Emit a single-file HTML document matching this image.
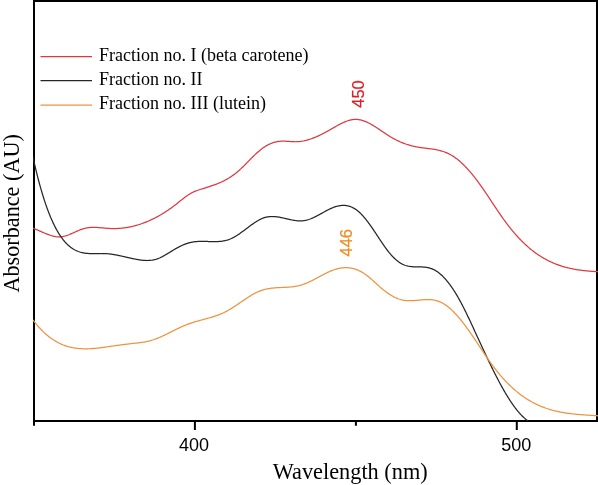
<!DOCTYPE html>
<html><head><meta charset="utf-8"><style>
html,body{margin:0;padding:0;background:#fff;}
body{width:598px;height:485px;overflow:hidden;}
svg{display:block;will-change:transform;}
.serif{font-family:"Liberation Serif",serif;}
.sans{font-family:"Liberation Sans",sans-serif;}
</style></head><body>
<svg width="598" height="485" viewBox="0 0 598 485">
<rect x="0" y="0" width="598" height="485" fill="#fff"/>
<defs><clipPath id="pc"><rect x="33" y="0" width="565" height="421.5"/></clipPath></defs>

<g fill="none" stroke="#000" stroke-width="2">
<path d="M34 1 H597 V421 H34 Z" />
<path d="M34 420 V425.8 M194.9 420 V430 M355.9 420 V425.8 M516.8 420 V430"/>
</g>
<g clip-path="url(#pc)"><g transform="translate(0 0.4)" fill="none" stroke-linejoin="round" stroke-linecap="round" stroke-width="1.25">
<path d="M33.00 227.85 L33.75 228.11 L34.50 228.39 L35.20 228.66 L35.90 228.94 L36.60 229.22 L37.30 229.52 L38.00 229.81 L38.70 230.11 L39.40 230.42 L40.10 230.73 L40.80 231.04 L41.50 231.35 L42.20 231.66 L42.90 231.97 L43.60 232.27 L44.30 232.58 L45.00 232.88 L45.70 233.17 L46.40 233.46 L47.10 233.74 L47.80 234.01 L48.55 234.29 L49.30 234.56 L50.05 234.82 L50.80 235.07 L51.55 235.30 L52.30 235.51 L53.05 235.70 L53.80 235.88 L54.55 236.04 L55.30 236.17 L56.05 236.29 L56.80 236.38 L57.55 236.44 L58.30 236.48 L59.05 236.49 L59.80 236.48 L60.55 236.43 L61.30 236.36 L62.05 236.26 L62.80 236.13 L63.55 235.97 L64.30 235.80 L65.05 235.60 L65.80 235.38 L66.55 235.14 L67.30 234.89 L68.05 234.62 L68.80 234.33 L69.50 234.06 L70.20 233.77 L70.90 233.48 L71.60 233.18 L72.30 232.88 L73.00 232.57 L73.70 232.25 L74.40 231.94 L75.10 231.63 L75.80 231.31 L76.50 231.00 L77.20 230.70 L77.90 230.40 L78.60 230.10 L79.30 229.81 L80.00 229.53 L80.70 229.26 L81.45 228.99 L82.20 228.73 L82.95 228.48 L83.70 228.25 L84.45 228.05 L85.20 227.86 L85.95 227.69 L86.70 227.55 L87.45 227.42 L88.20 227.31 L88.95 227.22 L89.70 227.14 L90.45 227.08 L91.20 227.03 L91.95 227.00 L92.70 226.98 L93.45 226.97 L94.20 226.98 L94.95 226.99 L95.70 227.01 L96.45 227.05 L97.20 227.08 L97.95 227.13 L98.70 227.18 L99.45 227.24 L100.20 227.30 L100.95 227.37 L101.70 227.43 L102.45 227.50 L103.20 227.57 L103.95 227.64 L104.70 227.71 L105.45 227.78 L106.20 227.84 L106.95 227.90 L107.70 227.96 L108.45 228.01 L109.20 228.05 L109.95 228.09 L110.70 228.12 L111.45 228.14 L112.20 228.16 L112.95 228.17 L113.70 228.17 L114.45 228.17 L115.20 228.16 L115.95 228.14 L116.70 228.11 L117.45 228.08 L118.20 228.04 L118.95 228.00 L119.70 227.94 L120.45 227.88 L121.20 227.82 L121.95 227.74 L122.70 227.66 L123.45 227.57 L124.20 227.48 L124.95 227.38 L125.70 227.27 L126.45 227.15 L127.20 227.03 L127.95 226.90 L128.70 226.76 L129.45 226.62 L130.20 226.47 L130.95 226.31 L131.70 226.15 L132.45 225.98 L133.20 225.80 L133.95 225.61 L134.70 225.42 L135.45 225.22 L136.20 225.01 L136.95 224.80 L137.70 224.58 L138.45 224.35 L139.20 224.12 L139.95 223.88 L140.70 223.63 L141.45 223.37 L142.20 223.11 L142.95 222.84 L143.70 222.56 L144.45 222.28 L145.15 222.01 L145.85 221.73 L146.55 221.45 L147.25 221.16 L147.95 220.86 L148.65 220.56 L149.35 220.25 L150.05 219.94 L150.75 219.62 L151.45 219.29 L152.15 218.96 L152.85 218.62 L153.55 218.27 L154.25 217.92 L154.95 217.57 L155.65 217.20 L156.35 216.83 L157.05 216.46 L157.75 216.08 L158.45 215.69 L159.15 215.29 L159.85 214.89 L160.50 214.52 L161.15 214.13 L161.80 213.75 L162.45 213.35 L163.10 212.95 L163.75 212.55 L164.40 212.14 L165.05 211.73 L165.70 211.31 L166.35 210.88 L167.00 210.45 L167.65 210.02 L168.30 209.58 L168.95 209.13 L169.60 208.68 L170.25 208.22 L170.90 207.76 L171.55 207.29 L172.20 206.82 L172.85 206.34 L173.50 205.86 L174.10 205.40 L174.70 204.95 L175.30 204.49 L175.90 204.02 L176.50 203.55 L177.10 203.08 L177.70 202.60 L178.30 202.13 L178.90 201.64 L179.50 201.16 L180.10 200.68 L180.70 200.20 L181.30 199.72 L181.90 199.24 L182.50 198.77 L183.10 198.30 L183.70 197.83 L184.30 197.37 L184.90 196.92 L185.55 196.44 L186.20 195.96 L186.85 195.50 L187.50 195.05 L188.15 194.61 L188.80 194.18 L189.45 193.77 L190.10 193.37 L190.75 192.99 L191.45 192.60 L192.15 192.23 L192.85 191.88 L193.55 191.54 L194.25 191.23 L194.95 190.93 L195.65 190.65 L196.35 190.38 L197.10 190.10 L197.85 189.84 L198.60 189.58 L199.35 189.33 L200.10 189.09 L200.85 188.85 L201.60 188.62 L202.35 188.39 L203.10 188.16 L203.85 187.92 L204.60 187.69 L205.35 187.46 L206.10 187.23 L206.85 186.99 L207.60 186.75 L208.35 186.51 L209.10 186.27 L209.85 186.03 L210.60 185.78 L211.35 185.53 L212.10 185.27 L212.85 185.01 L213.60 184.75 L214.35 184.48 L215.10 184.20 L215.85 183.92 L216.55 183.65 L217.25 183.37 L217.95 183.09 L218.65 182.80 L219.35 182.51 L220.05 182.20 L220.75 181.89 L221.45 181.58 L222.15 181.25 L222.85 180.92 L223.55 180.57 L224.25 180.22 L224.95 179.86 L225.65 179.49 L226.35 179.11 L227.05 178.71 L227.75 178.31 L228.40 177.93 L229.05 177.53 L229.70 177.13 L230.35 176.72 L231.00 176.29 L231.65 175.86 L232.30 175.41 L232.95 174.95 L233.60 174.48 L234.25 174.00 L234.85 173.55 L235.45 173.09 L236.05 172.61 L236.65 172.12 L237.25 171.63 L237.85 171.12 L238.45 170.60 L239.05 170.07 L239.65 169.53 L240.25 168.98 L240.80 168.46 L241.35 167.95 L241.90 167.42 L242.45 166.89 L243.00 166.35 L243.55 165.81 L244.10 165.27 L244.65 164.72 L245.20 164.16 L245.75 163.61 L246.30 163.05 L246.85 162.49 L247.40 161.93 L247.95 161.37 L248.50 160.80 L249.05 160.24 L249.60 159.68 L250.15 159.12 L250.70 158.56 L251.25 158.00 L251.80 157.45 L252.35 156.90 L252.90 156.35 L253.45 155.81 L254.00 155.27 L254.55 154.74 L255.10 154.21 L255.65 153.69 L256.20 153.17 L256.80 152.62 L257.40 152.08 L258.00 151.54 L258.60 151.02 L259.20 150.51 L259.80 150.00 L260.40 149.52 L261.00 149.04 L261.60 148.58 L262.25 148.09 L262.90 147.62 L263.55 147.17 L264.20 146.73 L264.85 146.31 L265.50 145.90 L266.15 145.51 L266.80 145.14 L267.50 144.75 L268.20 144.38 L268.90 144.03 L269.60 143.70 L270.30 143.38 L271.00 143.09 L271.70 142.81 L272.45 142.53 L273.20 142.27 L273.95 142.04 L274.70 141.82 L275.45 141.62 L276.20 141.45 L276.95 141.29 L277.70 141.16 L278.45 141.04 L279.20 140.95 L279.95 140.87 L280.70 140.82 L281.45 140.78 L282.20 140.76 L282.95 140.75 L283.70 140.75 L284.45 140.77 L285.20 140.80 L285.95 140.84 L286.70 140.88 L287.45 140.92 L288.20 140.98 L288.95 141.03 L289.70 141.08 L290.45 141.14 L291.20 141.19 L291.95 141.23 L292.70 141.27 L293.45 141.31 L294.20 141.33 L294.95 141.34 L295.70 141.35 L296.45 141.34 L297.20 141.31 L297.95 141.27 L298.70 141.21 L299.45 141.14 L300.20 141.06 L300.95 140.96 L301.70 140.85 L302.45 140.73 L303.20 140.59 L303.95 140.45 L304.70 140.28 L305.45 140.11 L306.20 139.93 L306.95 139.73 L307.70 139.52 L308.45 139.30 L309.20 139.07 L309.95 138.83 L310.70 138.58 L311.45 138.32 L312.20 138.05 L312.95 137.77 L313.65 137.50 L314.35 137.22 L315.05 136.94 L315.75 136.65 L316.45 136.35 L317.15 136.04 L317.85 135.73 L318.55 135.41 L319.25 135.08 L319.95 134.75 L320.65 134.41 L321.35 134.06 L322.05 133.71 L322.75 133.36 L323.45 133.00 L324.15 132.63 L324.85 132.26 L325.55 131.89 L326.25 131.51 L326.95 131.13 L327.65 130.74 L328.35 130.35 L329.05 129.95 L329.75 129.56 L330.45 129.16 L331.15 128.75 L331.80 128.38 L332.45 128.00 L333.10 127.63 L333.75 127.25 L334.40 126.87 L335.10 126.47 L335.80 126.07 L336.50 125.67 L337.20 125.28 L337.90 124.89 L338.60 124.51 L339.30 124.14 L340.00 123.77 L340.70 123.41 L341.40 123.05 L342.10 122.71 L342.80 122.38 L343.50 122.05 L344.20 121.74 L344.90 121.44 L345.60 121.16 L346.30 120.89 L347.05 120.61 L347.80 120.36 L348.55 120.12 L349.30 119.90 L350.05 119.70 L350.80 119.52 L351.55 119.37 L352.30 119.24 L353.05 119.13 L353.80 119.05 L354.55 118.99 L355.30 118.97 L356.05 118.97 L356.80 118.99 L357.55 119.05 L358.30 119.13 L359.05 119.24 L359.80 119.37 L360.55 119.53 L361.30 119.72 L362.05 119.92 L362.80 120.15 L363.55 120.40 L364.30 120.67 L365.05 120.95 L365.75 121.24 L366.45 121.54 L367.15 121.86 L367.85 122.19 L368.55 122.54 L369.25 122.89 L369.95 123.26 L370.65 123.64 L371.35 124.04 L372.05 124.44 L372.70 124.82 L373.35 125.21 L374.00 125.61 L374.65 126.01 L375.30 126.42 L375.95 126.84 L376.60 127.26 L377.25 127.68 L377.90 128.11 L378.55 128.54 L379.20 128.97 L379.85 129.41 L380.50 129.85 L381.15 130.29 L381.80 130.73 L382.45 131.17 L383.10 131.61 L383.75 132.05 L384.40 132.48 L385.05 132.92 L385.70 133.35 L386.35 133.78 L387.00 134.20 L387.65 134.63 L388.30 135.04 L388.95 135.45 L389.60 135.86 L390.25 136.26 L390.90 136.65 L391.55 137.03 L392.20 137.41 L392.90 137.80 L393.60 138.19 L394.30 138.57 L395.00 138.94 L395.70 139.30 L396.40 139.66 L397.10 140.00 L397.80 140.34 L398.50 140.67 L399.20 140.99 L399.90 141.31 L400.60 141.61 L401.30 141.91 L402.00 142.20 L402.70 142.48 L403.40 142.75 L404.15 143.04 L404.90 143.31 L405.65 143.58 L406.40 143.83 L407.15 144.08 L407.90 144.32 L408.65 144.55 L409.40 144.78 L410.15 144.99 L410.90 145.20 L411.65 145.40 L412.40 145.59 L413.15 145.77 L413.90 145.94 L414.65 146.11 L415.40 146.26 L416.15 146.41 L416.90 146.56 L417.65 146.69 L418.40 146.82 L419.15 146.94 L419.90 147.05 L420.65 147.16 L421.40 147.27 L422.15 147.37 L422.90 147.47 L423.65 147.56 L424.40 147.65 L425.15 147.74 L425.90 147.84 L426.65 147.93 L427.40 148.02 L428.15 148.11 L428.90 148.20 L429.65 148.30 L430.40 148.40 L431.15 148.50 L431.90 148.60 L432.65 148.71 L433.40 148.83 L434.15 148.95 L434.90 149.08 L435.65 149.21 L436.40 149.36 L437.15 149.51 L437.90 149.67 L438.65 149.84 L439.40 150.02 L440.15 150.21 L440.90 150.41 L441.65 150.63 L442.40 150.85 L443.15 151.09 L443.90 151.35 L444.65 151.62 L445.40 151.90 L446.10 152.18 L446.80 152.47 L447.50 152.78 L448.20 153.10 L448.90 153.44 L449.60 153.80 L450.30 154.17 L451.00 154.56 L451.65 154.93 L452.30 155.33 L452.95 155.73 L453.60 156.16 L454.25 156.59 L454.90 157.05 L455.55 157.51 L456.20 157.99 L456.80 158.45 L457.40 158.92 L458.00 159.40 L458.60 159.89 L459.20 160.39 L459.80 160.91 L460.40 161.44 L461.00 161.97 L461.60 162.52 L462.15 163.04 L462.70 163.56 L463.25 164.09 L463.80 164.63 L464.35 165.18 L464.90 165.74 L465.45 166.30 L466.00 166.88 L466.55 167.46 L467.10 168.05 L467.65 168.65 L468.20 169.26 L468.70 169.82 L469.20 170.39 L469.70 170.96 L470.20 171.54 L470.70 172.13 L471.20 172.72 L471.70 173.32 L472.20 173.93 L472.70 174.54 L473.20 175.16 L473.70 175.78 L474.20 176.41 L474.70 177.05 L475.20 177.69 L475.70 178.34 L476.20 178.99 L476.70 179.65 L477.20 180.31 L477.65 180.91 L478.10 181.52 L478.55 182.13 L479.00 182.75 L479.45 183.37 L479.90 183.99 L480.35 184.62 L480.80 185.25 L481.25 185.89 L481.70 186.53 L482.15 187.17 L482.60 187.82 L483.05 188.47 L483.50 189.12 L483.95 189.77 L484.40 190.43 L484.85 191.09 L485.30 191.76 L485.75 192.42 L486.20 193.09 L486.65 193.76 L487.10 194.43 L487.55 195.10 L488.00 195.78 L488.45 196.45 L488.90 197.13 L489.35 197.81 L489.80 198.49 L490.25 199.16 L490.70 199.84 L491.15 200.52 L491.60 201.21 L492.05 201.89 L492.50 202.57 L492.95 203.25 L493.40 203.93 L493.85 204.61 L494.30 205.28 L494.75 205.96 L495.20 206.64 L495.65 207.31 L496.10 207.99 L496.55 208.66 L497.00 209.33 L497.45 210.00 L497.90 210.67 L498.35 211.33 L498.80 212.00 L499.25 212.66 L499.70 213.32 L500.15 213.97 L500.60 214.62 L501.05 215.27 L501.50 215.92 L501.95 216.56 L502.40 217.20 L502.85 217.84 L503.30 218.47 L503.75 219.10 L504.20 219.72 L504.65 220.34 L505.10 220.95 L505.55 221.56 L506.00 222.17 L506.45 222.77 L506.95 223.44 L507.45 224.09 L507.95 224.75 L508.45 225.39 L508.95 226.04 L509.45 226.67 L509.95 227.30 L510.45 227.93 L510.95 228.55 L511.45 229.16 L511.95 229.77 L512.45 230.38 L512.95 230.97 L513.45 231.57 L513.95 232.15 L514.45 232.74 L514.95 233.31 L515.45 233.89 L515.95 234.45 L516.45 235.01 L517.00 235.62 L517.55 236.23 L518.10 236.83 L518.65 237.42 L519.20 238.00 L519.75 238.58 L520.30 239.15 L520.85 239.72 L521.40 240.28 L521.95 240.83 L522.50 241.38 L523.05 241.92 L523.60 242.46 L524.15 242.98 L524.70 243.51 L525.25 244.02 L525.85 244.58 L526.45 245.12 L527.05 245.66 L527.65 246.20 L528.25 246.72 L528.85 247.24 L529.45 247.75 L530.05 248.25 L530.65 248.75 L531.25 249.24 L531.85 249.72 L532.45 250.19 L533.05 250.66 L533.65 251.12 L534.25 251.57 L534.90 252.05 L535.55 252.53 L536.20 252.99 L536.85 253.45 L537.50 253.90 L538.15 254.34 L538.80 254.78 L539.45 255.20 L540.10 255.62 L540.75 256.03 L541.40 256.44 L542.05 256.83 L542.70 257.22 L543.35 257.60 L544.00 257.98 L544.70 258.38 L545.40 258.76 L546.10 259.14 L546.80 259.51 L547.50 259.88 L548.20 260.23 L548.90 260.58 L549.60 260.92 L550.30 261.25 L551.00 261.58 L551.70 261.90 L552.40 262.21 L553.10 262.51 L553.80 262.81 L554.50 263.10 L555.20 263.38 L555.90 263.66 L556.60 263.93 L557.35 264.21 L558.10 264.48 L558.85 264.75 L559.60 265.01 L560.35 265.26 L561.10 265.51 L561.85 265.74 L562.60 265.98 L563.35 266.20 L564.10 266.42 L564.85 266.63 L565.60 266.84 L566.35 267.04 L567.10 267.23 L567.85 267.42 L568.60 267.60 L569.35 267.77 L570.10 267.94 L570.85 268.11 L571.60 268.27 L572.35 268.42 L573.10 268.57 L573.85 268.71 L574.60 268.85 L575.35 268.98 L576.10 269.11 L576.85 269.24 L577.60 269.36 L578.35 269.47 L579.10 269.58 L579.85 269.69 L580.60 269.79 L581.35 269.89 L582.10 269.98 L582.85 270.08 L583.60 270.16 L584.35 270.25 L585.10 270.33 L585.85 270.40 L586.60 270.48 L587.35 270.55 L588.10 270.62 L588.85 270.68 L589.60 270.75 L590.35 270.81 L591.10 270.86 L591.85 270.92 L592.60 270.97 L593.35 271.02 L594.10 271.07 L594.85 271.12 L595.60 271.16 L596.35 271.21 L597.10 271.25 L597.85 271.29 L598.00 271.30" stroke="#dc3a40"/>
<path d="M33.00 156.80 L33.20 157.70 L33.40 158.60 L33.60 159.50 L33.80 160.39 L34.00 161.27 L34.20 162.15 L34.40 163.02 L34.60 163.89 L34.80 164.75 L35.00 165.61 L35.20 166.46 L35.40 167.30 L35.60 168.14 L35.80 168.98 L36.00 169.81 L36.20 170.63 L36.40 171.45 L36.60 172.26 L36.80 173.07 L37.00 173.87 L37.20 174.66 L37.40 175.45 L37.60 176.24 L37.80 177.02 L38.00 177.80 L38.20 178.57 L38.40 179.33 L38.60 180.09 L38.80 180.84 L39.00 181.59 L39.20 182.34 L39.40 183.08 L39.60 183.81 L39.80 184.54 L40.00 185.26 L40.25 186.16 L40.50 187.05 L40.75 187.93 L41.00 188.80 L41.25 189.67 L41.50 190.53 L41.75 191.38 L42.00 192.22 L42.25 193.05 L42.50 193.88 L42.75 194.70 L43.00 195.51 L43.25 196.32 L43.50 197.12 L43.75 197.91 L44.00 198.69 L44.25 199.46 L44.50 200.23 L44.75 200.99 L45.00 201.74 L45.25 202.49 L45.50 203.23 L45.75 203.96 L46.00 204.69 L46.25 205.40 L46.50 206.11 L46.80 206.96 L47.10 207.79 L47.40 208.61 L47.70 209.42 L48.00 210.23 L48.30 211.02 L48.60 211.81 L48.90 212.58 L49.20 213.34 L49.50 214.10 L49.80 214.84 L50.10 215.58 L50.40 216.31 L50.70 217.02 L51.00 217.73 L51.30 218.43 L51.60 219.12 L51.95 219.91 L52.30 220.69 L52.65 221.46 L53.00 222.22 L53.35 222.96 L53.70 223.69 L54.05 224.41 L54.40 225.12 L54.75 225.82 L55.10 226.50 L55.45 227.18 L55.85 227.94 L56.25 228.68 L56.65 229.40 L57.05 230.12 L57.45 230.82 L57.85 231.50 L58.25 232.17 L58.65 232.83 L59.05 233.47 L59.50 234.18 L59.95 234.87 L60.40 235.54 L60.85 236.20 L61.30 236.84 L61.75 237.47 L62.20 238.08 L62.70 238.73 L63.20 239.37 L63.70 239.99 L64.20 240.60 L64.70 241.18 L65.20 241.75 L65.75 242.35 L66.30 242.93 L66.85 243.49 L67.40 244.03 L67.95 244.55 L68.55 245.09 L69.15 245.61 L69.75 246.11 L70.35 246.59 L70.95 247.04 L71.60 247.51 L72.25 247.96 L72.90 248.38 L73.55 248.78 L74.20 249.16 L74.90 249.54 L75.60 249.90 L76.30 250.24 L77.00 250.55 L77.70 250.84 L78.40 251.11 L79.15 251.38 L79.90 251.62 L80.65 251.84 L81.40 252.04 L82.15 252.22 L82.90 252.39 L83.65 252.53 L84.40 252.66 L85.15 252.77 L85.90 252.87 L86.65 252.95 L87.40 253.02 L88.15 253.08 L88.90 253.13 L89.65 253.16 L90.40 253.19 L91.15 253.21 L91.90 253.22 L92.65 253.22 L93.40 253.22 L94.15 253.21 L94.90 253.20 L95.65 253.19 L96.40 253.18 L97.15 253.16 L97.90 253.14 L98.65 253.13 L99.40 253.12 L100.15 253.11 L100.90 253.10 L101.65 253.10 L102.40 253.10 L103.15 253.11 L103.90 253.13 L104.65 253.15 L105.40 253.19 L106.15 253.23 L106.90 253.29 L107.65 253.35 L108.40 253.42 L109.15 253.50 L109.90 253.59 L110.65 253.68 L111.40 253.78 L112.15 253.89 L112.90 254.01 L113.65 254.13 L114.40 254.26 L115.15 254.39 L115.90 254.53 L116.65 254.67 L117.40 254.82 L118.15 254.97 L118.90 255.12 L119.65 255.28 L120.40 255.44 L121.15 255.60 L121.90 255.77 L122.65 255.94 L123.40 256.11 L124.15 256.28 L124.90 256.45 L125.65 256.62 L126.40 256.79 L127.15 256.97 L127.90 257.14 L128.65 257.31 L129.40 257.48 L130.15 257.65 L130.90 257.81 L131.65 257.98 L132.40 258.14 L133.15 258.30 L133.90 258.46 L134.65 258.61 L135.40 258.76 L136.15 258.90 L136.90 259.04 L137.65 259.18 L138.40 259.30 L139.15 259.43 L139.90 259.54 L140.65 259.64 L141.40 259.74 L142.15 259.82 L142.90 259.90 L143.65 259.96 L144.40 260.02 L145.15 260.06 L145.90 260.08 L146.65 260.10 L147.40 260.10 L148.15 260.08 L148.90 260.05 L149.65 260.00 L150.40 259.94 L151.15 259.85 L151.90 259.75 L152.65 259.63 L153.40 259.49 L154.15 259.33 L154.90 259.15 L155.65 258.95 L156.40 258.72 L157.15 258.47 L157.90 258.20 L158.60 257.93 L159.30 257.64 L160.00 257.33 L160.70 257.00 L161.40 256.67 L162.10 256.32 L162.80 255.95 L163.50 255.58 L164.20 255.19 L164.90 254.80 L165.60 254.39 L166.25 254.01 L166.90 253.63 L167.55 253.24 L168.20 252.84 L168.85 252.45 L169.50 252.05 L170.15 251.65 L170.80 251.25 L171.45 250.85 L172.10 250.45 L172.75 250.05 L173.40 249.66 L174.05 249.27 L174.70 248.88 L175.35 248.50 L176.05 248.10 L176.75 247.71 L177.45 247.32 L178.15 246.95 L178.85 246.58 L179.55 246.22 L180.25 245.88 L180.95 245.54 L181.65 245.22 L182.35 244.90 L183.05 244.59 L183.75 244.30 L184.45 244.02 L185.15 243.75 L185.90 243.47 L186.65 243.21 L187.40 242.96 L188.15 242.73 L188.90 242.51 L189.65 242.30 L190.40 242.12 L191.15 241.94 L191.90 241.79 L192.65 241.65 L193.40 241.52 L194.15 241.41 L194.90 241.32 L195.65 241.24 L196.40 241.16 L197.15 241.11 L197.90 241.06 L198.65 241.02 L199.40 240.99 L200.15 240.97 L200.90 240.96 L201.65 240.95 L202.40 240.96 L203.15 240.96 L203.90 240.97 L204.65 240.99 L205.40 241.01 L206.15 241.03 L206.90 241.06 L207.65 241.08 L208.40 241.11 L209.15 241.13 L209.90 241.15 L210.65 241.18 L211.40 241.20 L212.15 241.21 L212.90 241.22 L213.65 241.23 L214.40 241.23 L215.15 241.23 L215.90 241.21 L216.65 241.19 L217.40 241.16 L218.15 241.13 L218.90 241.08 L219.65 241.02 L220.40 240.95 L221.15 240.86 L221.90 240.77 L222.65 240.66 L223.40 240.53 L224.15 240.39 L224.90 240.23 L225.65 240.06 L226.40 239.87 L227.15 239.66 L227.90 239.43 L228.65 239.18 L229.40 238.91 L230.10 238.64 L230.80 238.35 L231.50 238.04 L232.20 237.71 L232.90 237.36 L233.60 237.00 L234.30 236.62 L235.00 236.22 L235.65 235.83 L236.30 235.44 L236.95 235.03 L237.60 234.61 L238.25 234.18 L238.90 233.75 L239.55 233.30 L240.20 232.85 L240.85 232.39 L241.50 231.92 L242.15 231.45 L242.80 230.97 L243.45 230.49 L244.10 230.00 L244.70 229.55 L245.30 229.10 L245.90 228.65 L246.50 228.19 L247.10 227.74 L247.70 227.29 L248.30 226.84 L248.95 226.35 L249.60 225.87 L250.25 225.39 L250.90 224.91 L251.55 224.44 L252.20 223.97 L252.85 223.51 L253.50 223.06 L254.15 222.62 L254.80 222.18 L255.45 221.76 L256.10 221.34 L256.75 220.94 L257.40 220.55 L258.05 220.17 L258.75 219.77 L259.45 219.39 L260.15 219.03 L260.85 218.69 L261.55 218.36 L262.25 218.06 L262.95 217.78 L263.70 217.50 L264.45 217.24 L265.20 217.01 L265.95 216.82 L266.70 216.64 L267.45 216.50 L268.20 216.37 L268.95 216.27 L269.70 216.20 L270.45 216.15 L271.20 216.11 L271.95 216.10 L272.70 216.10 L273.45 216.13 L274.20 216.17 L274.95 216.22 L275.70 216.29 L276.45 216.38 L277.20 216.48 L277.95 216.59 L278.70 216.71 L279.45 216.84 L280.20 216.98 L280.95 217.12 L281.70 217.28 L282.45 217.44 L283.20 217.60 L283.95 217.77 L284.70 217.94 L285.45 218.12 L286.20 218.29 L286.95 218.46 L287.70 218.64 L288.45 218.81 L289.20 218.98 L289.95 219.14 L290.70 219.30 L291.45 219.46 L292.20 219.60 L292.95 219.74 L293.70 219.87 L294.45 219.99 L295.20 220.10 L295.95 220.20 L296.70 220.29 L297.45 220.36 L298.20 220.41 L298.95 220.45 L299.70 220.48 L300.45 220.48 L301.20 220.47 L301.95 220.44 L302.70 220.38 L303.45 220.31 L304.20 220.21 L304.95 220.09 L305.70 219.94 L306.45 219.77 L307.20 219.58 L307.95 219.36 L308.70 219.13 L309.45 218.87 L310.20 218.60 L310.90 218.33 L311.60 218.04 L312.30 217.75 L313.00 217.44 L313.70 217.12 L314.40 216.78 L315.10 216.44 L315.80 216.09 L316.50 215.73 L317.20 215.37 L317.90 215.00 L318.60 214.62 L319.30 214.24 L320.00 213.86 L320.70 213.47 L321.40 213.08 L322.10 212.69 L322.80 212.30 L323.50 211.92 L324.20 211.53 L324.90 211.15 L325.60 210.77 L326.30 210.39 L327.00 210.02 L327.70 209.66 L328.40 209.30 L329.10 208.96 L329.80 208.62 L330.50 208.29 L331.20 207.97 L331.90 207.67 L332.60 207.37 L333.30 207.09 L334.05 206.81 L334.80 206.54 L335.55 206.29 L336.30 206.07 L337.05 205.86 L337.80 205.67 L338.55 205.51 L339.30 205.37 L340.05 205.25 L340.80 205.15 L341.55 205.08 L342.30 205.03 L343.05 205.01 L343.80 205.01 L344.55 205.04 L345.30 205.09 L346.05 205.18 L346.80 205.29 L347.55 205.43 L348.30 205.60 L349.05 205.80 L349.80 206.03 L350.55 206.29 L351.25 206.56 L351.95 206.86 L352.65 207.19 L353.35 207.55 L354.05 207.93 L354.70 208.32 L355.35 208.73 L356.00 209.17 L356.65 209.64 L357.25 210.09 L357.85 210.57 L358.45 211.07 L359.05 211.59 L359.65 212.14 L360.20 212.66 L360.75 213.20 L361.30 213.76 L361.85 214.33 L362.40 214.92 L362.95 215.52 L363.45 216.09 L363.95 216.66 L364.45 217.25 L364.95 217.85 L365.45 218.46 L365.95 219.08 L366.45 219.72 L366.95 220.36 L367.45 221.01 L367.95 221.67 L368.40 222.28 L368.85 222.89 L369.30 223.50 L369.75 224.13 L370.20 224.76 L370.65 225.39 L371.10 226.03 L371.55 226.68 L372.00 227.33 L372.45 227.99 L372.90 228.65 L373.35 229.31 L373.80 229.98 L374.25 230.66 L374.70 231.33 L375.15 232.01 L375.60 232.69 L376.05 233.37 L376.50 234.05 L376.95 234.74 L377.40 235.42 L377.85 236.10 L378.30 236.79 L378.75 237.47 L379.20 238.15 L379.65 238.83 L380.10 239.51 L380.55 240.19 L381.00 240.86 L381.45 241.53 L381.90 242.20 L382.35 242.86 L382.80 243.52 L383.25 244.18 L383.70 244.83 L384.15 245.47 L384.60 246.11 L385.05 246.74 L385.50 247.36 L385.95 247.98 L386.40 248.59 L386.85 249.19 L387.35 249.85 L387.85 250.50 L388.35 251.14 L388.85 251.77 L389.35 252.38 L389.85 252.98 L390.35 253.57 L390.85 254.15 L391.35 254.71 L391.90 255.32 L392.45 255.91 L393.00 256.49 L393.55 257.05 L394.10 257.59 L394.65 258.12 L395.20 258.64 L395.80 259.18 L396.40 259.70 L397.00 260.20 L397.60 260.68 L398.20 261.14 L398.85 261.61 L399.50 262.06 L400.15 262.49 L400.80 262.89 L401.45 263.26 L402.15 263.64 L402.85 263.98 L403.55 264.30 L404.25 264.58 L405.00 264.86 L405.75 265.11 L406.50 265.33 L407.25 265.53 L408.00 265.70 L408.75 265.85 L409.50 265.97 L410.25 266.08 L411.00 266.17 L411.75 266.25 L412.50 266.31 L413.25 266.36 L414.00 266.40 L414.75 266.43 L415.50 266.45 L416.25 266.46 L417.00 266.48 L417.75 266.49 L418.50 266.50 L419.25 266.50 L420.00 266.52 L420.75 266.53 L421.50 266.56 L422.25 266.59 L423.00 266.63 L423.75 266.68 L424.50 266.74 L425.25 266.82 L426.00 266.91 L426.75 267.02 L427.50 267.15 L428.25 267.30 L429.00 267.48 L429.75 267.68 L430.50 267.90 L431.25 268.15 L432.00 268.44 L432.70 268.73 L433.40 269.04 L434.10 269.39 L434.80 269.77 L435.50 270.17 L436.15 270.56 L436.80 270.99 L437.45 271.43 L438.10 271.90 L438.70 272.35 L439.30 272.82 L439.90 273.31 L440.50 273.82 L441.10 274.35 L441.70 274.90 L442.25 275.42 L442.80 275.96 L443.35 276.51 L443.90 277.08 L444.45 277.66 L445.00 278.26 L445.55 278.88 L446.05 279.45 L446.55 280.04 L447.05 280.63 L447.55 281.25 L448.05 281.87 L448.55 282.51 L449.05 283.15 L449.55 283.82 L450.00 284.42 L450.45 285.04 L450.90 285.66 L451.35 286.30 L451.80 286.95 L452.25 287.60 L452.70 288.27 L453.15 288.94 L453.60 289.63 L454.05 290.32 L454.50 291.03 L454.95 291.74 L455.35 292.38 L455.75 293.03 L456.15 293.69 L456.55 294.36 L456.95 295.03 L457.35 295.71 L457.75 296.40 L458.15 297.09 L458.55 297.80 L458.95 298.51 L459.35 299.22 L459.75 299.95 L460.15 300.68 L460.55 301.42 L460.95 302.16 L461.35 302.92 L461.70 303.58 L462.05 304.25 L462.40 304.92 L462.75 305.60 L463.10 306.28 L463.45 306.97 L463.80 307.66 L464.15 308.36 L464.50 309.06 L464.85 309.76 L465.20 310.46 L465.55 311.18 L465.90 311.89 L466.25 312.61 L466.60 313.33 L466.95 314.05 L467.30 314.78 L467.65 315.51 L468.00 316.24 L468.35 316.97 L468.70 317.71 L469.05 318.45 L469.40 319.19 L469.75 319.93 L470.10 320.68 L470.45 321.43 L470.80 322.18 L471.15 322.93 L471.50 323.68 L471.85 324.43 L472.20 325.19 L472.55 325.94 L472.90 326.70 L473.25 327.46 L473.60 328.22 L473.95 328.98 L474.30 329.74 L474.65 330.49 L475.00 331.25 L475.35 332.01 L475.70 332.77 L476.05 333.53 L476.40 334.29 L476.75 335.05 L477.10 335.81 L477.45 336.57 L477.80 337.33 L478.15 338.09 L478.50 338.85 L478.85 339.61 L479.20 340.37 L479.55 341.13 L479.90 341.88 L480.25 342.64 L480.60 343.40 L480.95 344.15 L481.30 344.91 L481.65 345.66 L482.00 346.41 L482.35 347.16 L482.70 347.92 L483.05 348.67 L483.40 349.42 L483.75 350.16 L484.10 350.91 L484.45 351.66 L484.80 352.40 L485.15 353.15 L485.50 353.89 L485.85 354.63 L486.20 355.37 L486.55 356.11 L486.90 356.85 L487.25 357.58 L487.60 358.32 L487.95 359.05 L488.30 359.78 L488.65 360.51 L489.00 361.24 L489.35 361.97 L489.70 362.69 L490.05 363.41 L490.40 364.13 L490.75 364.85 L491.10 365.57 L491.45 366.28 L491.80 366.99 L492.15 367.70 L492.50 368.41 L492.85 369.12 L493.20 369.82 L493.55 370.52 L493.90 371.22 L494.25 371.92 L494.60 372.61 L494.95 373.30 L495.30 373.99 L495.65 374.68 L496.00 375.36 L496.35 376.04 L496.70 376.72 L497.05 377.40 L497.40 378.07 L497.75 378.74 L498.10 379.41 L498.45 380.07 L498.85 380.83 L499.25 381.58 L499.65 382.32 L500.05 383.07 L500.45 383.80 L500.85 384.54 L501.25 385.27 L501.65 385.99 L502.05 386.71 L502.45 387.43 L502.85 388.14 L503.25 388.85 L503.65 389.55 L504.05 390.25 L504.45 390.94 L504.85 391.63 L505.25 392.31 L505.65 392.99 L506.05 393.66 L506.45 394.33 L506.85 394.99 L507.25 395.64 L507.65 396.29 L508.05 396.94 L508.45 397.58 L508.90 398.29 L509.35 399.00 L509.80 399.69 L510.25 400.38 L510.70 401.07 L511.15 401.74 L511.60 402.41 L512.05 403.07 L512.50 403.72 L512.95 404.36 L513.40 405.00 L513.85 405.62 L514.30 406.24 L514.75 406.85 L515.20 407.45 L515.70 408.11 L516.20 408.76 L516.70 409.39 L517.20 410.02 L517.70 410.63 L518.20 411.23 L518.70 411.82 L519.20 412.40 L519.70 412.97 L520.25 413.58 L520.80 414.17 L521.35 414.75 L521.90 415.32 L522.45 415.87 L523.00 416.40 L523.55 416.92 L524.15 417.47 L524.75 418.00 L525.35 418.51 L525.95 419.00 L526.55 419.47 L527.15 419.92 L527.50 420.18" stroke="#262626"/>
<path d="M33.00 319.60 L33.50 320.27 L34.00 320.92 L34.50 321.56 L35.00 322.19 L35.50 322.82 L36.00 323.43 L36.50 324.04 L37.00 324.63 L37.50 325.22 L38.00 325.79 L38.50 326.36 L39.00 326.92 L39.55 327.53 L40.10 328.12 L40.65 328.70 L41.20 329.28 L41.75 329.84 L42.30 330.39 L42.85 330.93 L43.40 331.46 L43.95 331.99 L44.50 332.50 L45.10 333.04 L45.70 333.58 L46.30 334.10 L46.90 334.61 L47.50 335.11 L48.10 335.60 L48.70 336.08 L49.30 336.55 L49.90 337.00 L50.55 337.48 L51.20 337.95 L51.85 338.41 L52.50 338.85 L53.15 339.28 L53.80 339.70 L54.45 340.11 L55.10 340.51 L55.75 340.89 L56.45 341.29 L57.15 341.68 L57.85 342.05 L58.55 342.42 L59.25 342.77 L59.95 343.10 L60.65 343.43 L61.35 343.74 L62.05 344.04 L62.75 344.33 L63.45 344.61 L64.20 344.89 L64.95 345.16 L65.70 345.42 L66.45 345.67 L67.20 345.90 L67.95 346.13 L68.70 346.34 L69.45 346.54 L70.20 346.72 L70.95 346.90 L71.70 347.07 L72.45 347.22 L73.20 347.36 L73.95 347.50 L74.70 347.62 L75.45 347.74 L76.20 347.84 L76.95 347.94 L77.70 348.02 L78.45 348.10 L79.20 348.17 L79.95 348.22 L80.70 348.28 L81.45 348.32 L82.20 348.35 L82.95 348.38 L83.70 348.40 L84.45 348.41 L85.20 348.42 L85.95 348.42 L86.70 348.41 L87.45 348.39 L88.20 348.37 L88.95 348.35 L89.70 348.31 L90.45 348.28 L91.20 348.23 L91.95 348.18 L92.70 348.13 L93.45 348.07 L94.20 348.01 L94.95 347.94 L95.70 347.87 L96.45 347.80 L97.20 347.72 L97.95 347.63 L98.70 347.55 L99.45 347.46 L100.20 347.37 L100.95 347.28 L101.70 347.18 L102.45 347.08 L103.20 346.98 L103.95 346.88 L104.70 346.78 L105.45 346.67 L106.20 346.57 L106.95 346.46 L107.70 346.35 L108.45 346.25 L109.20 346.14 L109.95 346.03 L110.70 345.92 L111.45 345.82 L112.20 345.71 L112.95 345.60 L113.70 345.50 L114.45 345.39 L115.20 345.29 L115.95 345.18 L116.70 345.08 L117.45 344.98 L118.20 344.87 L118.95 344.77 L119.70 344.67 L120.45 344.57 L121.20 344.47 L121.95 344.37 L122.70 344.27 L123.45 344.18 L124.20 344.08 L124.95 343.98 L125.70 343.89 L126.45 343.80 L127.20 343.70 L127.95 343.61 L128.70 343.52 L129.45 343.44 L130.20 343.35 L130.95 343.26 L131.70 343.18 L132.45 343.09 L133.20 343.01 L133.95 342.93 L134.70 342.85 L135.45 342.77 L136.20 342.69 L136.95 342.61 L137.70 342.53 L138.45 342.44 L139.20 342.36 L139.95 342.26 L140.70 342.17 L141.45 342.07 L142.20 341.96 L142.95 341.85 L143.70 341.73 L144.45 341.61 L145.20 341.48 L145.95 341.34 L146.70 341.19 L147.45 341.03 L148.20 340.86 L148.95 340.68 L149.70 340.49 L150.45 340.28 L151.20 340.07 L151.95 339.84 L152.70 339.61 L153.45 339.36 L154.20 339.10 L154.95 338.83 L155.70 338.56 L156.45 338.27 L157.15 338.00 L157.85 337.71 L158.55 337.43 L159.25 337.13 L159.95 336.83 L160.65 336.52 L161.35 336.21 L162.05 335.89 L162.75 335.57 L163.45 335.25 L164.15 334.92 L164.85 334.58 L165.55 334.25 L166.25 333.91 L166.95 333.56 L167.65 333.22 L168.35 332.87 L169.05 332.52 L169.75 332.17 L170.45 331.82 L171.15 331.47 L171.85 331.12 L172.55 330.77 L173.25 330.42 L173.95 330.07 L174.65 329.72 L175.35 329.37 L176.05 329.03 L176.75 328.68 L177.45 328.34 L178.15 328.00 L178.85 327.67 L179.55 327.34 L180.25 327.01 L180.95 326.69 L181.65 326.37 L182.35 326.06 L183.05 325.75 L183.75 325.44 L184.45 325.15 L185.15 324.86 L185.85 324.57 L186.55 324.29 L187.25 324.02 L188.00 323.74 L188.75 323.47 L189.50 323.20 L190.25 322.94 L191.00 322.69 L191.75 322.44 L192.50 322.20 L193.25 321.97 L194.00 321.74 L194.75 321.51 L195.50 321.29 L196.25 321.07 L197.00 320.86 L197.75 320.65 L198.50 320.44 L199.25 320.23 L200.00 320.03 L200.75 319.83 L201.50 319.62 L202.25 319.42 L203.00 319.22 L203.75 319.02 L204.50 318.82 L205.25 318.62 L206.00 318.42 L206.75 318.21 L207.50 318.00 L208.25 317.79 L209.00 317.58 L209.75 317.37 L210.50 317.15 L211.25 316.92 L212.00 316.70 L212.75 316.47 L213.50 316.23 L214.25 315.99 L215.00 315.74 L215.75 315.48 L216.50 315.22 L217.25 314.95 L218.00 314.67 L218.75 314.39 L219.45 314.12 L220.15 313.84 L220.85 313.55 L221.55 313.25 L222.25 312.95 L222.95 312.63 L223.65 312.31 L224.35 311.98 L225.05 311.63 L225.75 311.28 L226.45 310.92 L227.15 310.55 L227.85 310.16 L228.55 309.77 L229.20 309.39 L229.85 309.01 L230.50 308.62 L231.15 308.22 L231.80 307.82 L232.45 307.41 L233.10 307.00 L233.75 306.58 L234.40 306.15 L235.05 305.72 L235.70 305.29 L236.35 304.86 L237.00 304.42 L237.65 303.98 L238.30 303.53 L238.95 303.09 L239.60 302.64 L240.25 302.20 L240.90 301.75 L241.55 301.30 L242.20 300.86 L242.85 300.41 L243.50 299.97 L244.15 299.52 L244.80 299.09 L245.45 298.65 L246.10 298.22 L246.75 297.79 L247.40 297.36 L248.05 296.94 L248.70 296.52 L249.35 296.11 L250.00 295.71 L250.65 295.31 L251.30 294.92 L251.95 294.54 L252.60 294.16 L253.30 293.76 L254.00 293.38 L254.70 293.00 L255.40 292.64 L256.10 292.28 L256.80 291.94 L257.50 291.61 L258.20 291.30 L258.90 291.00 L259.60 290.71 L260.30 290.44 L261.05 290.16 L261.80 289.90 L262.55 289.66 L263.30 289.43 L264.05 289.22 L264.80 289.03 L265.55 288.84 L266.30 288.67 L267.05 288.51 L267.80 288.37 L268.55 288.23 L269.30 288.11 L270.05 287.99 L270.80 287.89 L271.55 287.79 L272.30 287.71 L273.05 287.63 L273.80 287.55 L274.55 287.49 L275.30 287.43 L276.05 287.38 L276.80 287.33 L277.55 287.28 L278.30 287.24 L279.05 287.20 L279.80 287.17 L280.55 287.13 L281.30 287.10 L282.05 287.07 L282.80 287.04 L283.55 287.00 L284.30 286.97 L285.05 286.94 L285.80 286.90 L286.55 286.86 L287.30 286.82 L288.05 286.77 L288.80 286.72 L289.55 286.66 L290.30 286.60 L291.05 286.53 L291.80 286.45 L292.55 286.37 L293.30 286.28 L294.05 286.18 L294.80 286.07 L295.55 285.95 L296.30 285.82 L297.05 285.68 L297.80 285.52 L298.55 285.36 L299.30 285.18 L300.05 284.99 L300.80 284.78 L301.55 284.56 L302.30 284.33 L303.05 284.08 L303.80 283.81 L304.55 283.53 L305.25 283.26 L305.95 282.98 L306.65 282.69 L307.35 282.39 L308.05 282.08 L308.75 281.76 L309.45 281.43 L310.15 281.10 L310.85 280.76 L311.55 280.41 L312.25 280.06 L312.95 279.70 L313.65 279.34 L314.35 278.97 L315.05 278.60 L315.75 278.23 L316.45 277.85 L317.15 277.48 L317.85 277.10 L318.55 276.72 L319.25 276.35 L319.95 275.97 L320.65 275.59 L321.35 275.22 L322.05 274.84 L322.75 274.48 L323.45 274.11 L324.15 273.75 L324.85 273.39 L325.55 273.04 L326.25 272.69 L326.95 272.35 L327.65 272.01 L328.35 271.69 L329.05 271.37 L329.75 271.06 L330.45 270.76 L331.15 270.46 L331.85 270.18 L332.55 269.91 L333.30 269.63 L334.05 269.37 L334.80 269.12 L335.55 268.88 L336.30 268.66 L337.05 268.45 L337.80 268.27 L338.55 268.09 L339.30 267.93 L340.05 267.79 L340.80 267.67 L341.55 267.56 L342.30 267.47 L343.05 267.40 L343.80 267.34 L344.55 267.30 L345.30 267.28 L346.05 267.27 L346.80 267.29 L347.55 267.32 L348.30 267.37 L349.05 267.44 L349.80 267.53 L350.55 267.64 L351.30 267.76 L352.05 267.91 L352.80 268.07 L353.55 268.26 L354.30 268.46 L355.05 268.69 L355.80 268.94 L356.55 269.20 L357.30 269.49 L358.00 269.78 L358.70 270.08 L359.40 270.41 L360.10 270.75 L360.80 271.11 L361.50 271.49 L362.20 271.89 L362.85 272.28 L363.50 272.69 L364.15 273.11 L364.80 273.55 L365.45 274.01 L366.10 274.48 L366.70 274.94 L367.30 275.40 L367.90 275.87 L368.50 276.36 L369.10 276.86 L369.70 277.36 L370.30 277.87 L370.90 278.39 L371.50 278.92 L372.10 279.45 L372.70 279.99 L373.30 280.53 L373.90 281.07 L374.50 281.62 L375.10 282.16 L375.70 282.71 L376.30 283.26 L376.90 283.81 L377.50 284.35 L378.10 284.89 L378.70 285.43 L379.30 285.96 L379.90 286.49 L380.50 287.01 L381.10 287.52 L381.70 288.03 L382.30 288.53 L382.90 289.02 L383.50 289.50 L384.10 289.98 L384.70 290.45 L385.30 290.90 L385.95 291.39 L386.60 291.87 L387.25 292.33 L387.90 292.79 L388.55 293.23 L389.20 293.67 L389.85 294.09 L390.50 294.50 L391.15 294.89 L391.80 295.28 L392.50 295.68 L393.20 296.06 L393.90 296.43 L394.60 296.79 L395.30 297.13 L396.00 297.45 L396.70 297.76 L397.40 298.05 L398.10 298.32 L398.85 298.59 L399.60 298.85 L400.35 299.08 L401.10 299.29 L401.85 299.48 L402.60 299.65 L403.35 299.80 L404.10 299.92 L404.85 300.03 L405.60 300.12 L406.35 300.19 L407.10 300.25 L407.85 300.29 L408.60 300.31 L409.35 300.33 L410.10 300.33 L410.85 300.32 L411.60 300.29 L412.35 300.26 L413.10 300.22 L413.85 300.18 L414.60 300.12 L415.35 300.06 L416.10 300.00 L416.85 299.93 L417.60 299.86 L418.35 299.79 L419.10 299.72 L419.85 299.65 L420.60 299.58 L421.35 299.51 L422.10 299.45 L422.85 299.39 L423.60 299.33 L424.35 299.29 L425.10 299.25 L425.85 299.21 L426.60 299.19 L427.35 299.18 L428.10 299.18 L428.85 299.19 L429.60 299.21 L430.35 299.25 L431.10 299.31 L431.85 299.38 L432.60 299.46 L433.35 299.57 L434.10 299.70 L434.85 299.84 L435.60 300.01 L436.35 300.20 L437.10 300.41 L437.85 300.65 L438.60 300.91 L439.35 301.19 L440.05 301.49 L440.75 301.80 L441.45 302.14 L442.15 302.51 L442.85 302.89 L443.50 303.27 L444.15 303.67 L444.80 304.09 L445.45 304.52 L446.10 304.98 L446.75 305.45 L447.35 305.90 L447.95 306.37 L448.55 306.85 L449.15 307.34 L449.75 307.85 L450.35 308.38 L450.95 308.92 L451.55 309.47 L452.10 309.98 L452.65 310.51 L453.20 311.05 L453.75 311.60 L454.30 312.16 L454.85 312.73 L455.40 313.31 L455.95 313.90 L456.50 314.50 L457.05 315.12 L457.55 315.68 L458.05 316.25 L458.55 316.83 L459.05 317.42 L459.55 318.01 L460.05 318.61 L460.55 319.22 L461.05 319.83 L461.55 320.46 L462.05 321.09 L462.55 321.72 L463.05 322.36 L463.55 323.01 L464.05 323.67 L464.55 324.33 L465.00 324.93 L465.45 325.53 L465.90 326.14 L466.35 326.76 L466.80 327.37 L467.25 328.00 L467.70 328.62 L468.15 329.25 L468.60 329.89 L469.05 330.52 L469.50 331.17 L469.95 331.81 L470.40 332.46 L470.85 333.11 L471.30 333.76 L471.75 334.42 L472.20 335.07 L472.65 335.73 L473.10 336.40 L473.55 337.06 L474.00 337.73 L474.45 338.40 L474.90 339.07 L475.35 339.74 L475.80 340.42 L476.25 341.09 L476.70 341.77 L477.15 342.44 L477.60 343.12 L478.05 343.80 L478.50 344.48 L478.95 345.16 L479.40 345.84 L479.85 346.52 L480.30 347.20 L480.75 347.88 L481.20 348.56 L481.65 349.24 L482.10 349.92 L482.55 350.59 L483.00 351.27 L483.45 351.94 L483.90 352.62 L484.35 353.29 L484.80 353.96 L485.25 354.63 L485.70 355.29 L486.15 355.96 L486.60 356.62 L487.05 357.28 L487.50 357.93 L487.95 358.59 L488.40 359.24 L488.85 359.88 L489.30 360.53 L489.75 361.17 L490.20 361.80 L490.65 362.43 L491.10 363.06 L491.55 363.68 L492.00 364.30 L492.45 364.91 L492.90 365.52 L493.35 366.13 L493.85 366.79 L494.35 367.45 L494.85 368.10 L495.35 368.75 L495.85 369.39 L496.35 370.03 L496.85 370.66 L497.35 371.28 L497.85 371.90 L498.35 372.51 L498.85 373.11 L499.35 373.71 L499.85 374.31 L500.35 374.90 L500.85 375.48 L501.35 376.06 L501.85 376.63 L502.35 377.20 L502.85 377.76 L503.40 378.37 L503.95 378.97 L504.50 379.57 L505.05 380.16 L505.60 380.74 L506.15 381.32 L506.70 381.89 L507.25 382.45 L507.80 383.01 L508.35 383.56 L508.90 384.10 L509.45 384.64 L510.00 385.17 L510.55 385.70 L511.10 386.22 L511.65 386.73 L512.25 387.29 L512.85 387.83 L513.45 388.37 L514.05 388.91 L514.65 389.43 L515.25 389.95 L515.85 390.46 L516.45 390.97 L517.05 391.47 L517.65 391.96 L518.25 392.44 L518.85 392.92 L519.45 393.39 L520.05 393.85 L520.65 394.30 L521.30 394.79 L521.95 395.27 L522.60 395.73 L523.25 396.19 L523.90 396.65 L524.55 397.09 L525.20 397.53 L525.85 397.96 L526.50 398.38 L527.15 398.79 L527.80 399.20 L528.45 399.60 L529.10 399.99 L529.75 400.37 L530.40 400.75 L531.10 401.15 L531.80 401.54 L532.50 401.92 L533.20 402.29 L533.90 402.66 L534.60 403.02 L535.30 403.37 L536.00 403.71 L536.70 404.04 L537.40 404.37 L538.10 404.69 L538.80 405.01 L539.50 405.31 L540.20 405.61 L540.90 405.90 L541.60 406.19 L542.30 406.47 L543.00 406.74 L543.75 407.02 L544.50 407.30 L545.25 407.57 L546.00 407.83 L546.75 408.09 L547.50 408.34 L548.25 408.58 L549.00 408.82 L549.75 409.04 L550.50 409.27 L551.25 409.48 L552.00 409.69 L552.75 409.90 L553.50 410.09 L554.25 410.29 L555.00 410.47 L555.75 410.65 L556.50 410.83 L557.25 411.00 L558.00 411.16 L558.75 411.32 L559.50 411.47 L560.25 411.62 L561.00 411.77 L561.75 411.91 L562.50 412.04 L563.25 412.17 L564.00 412.30 L564.75 412.42 L565.50 412.54 L566.25 412.65 L567.00 412.76 L567.75 412.87 L568.50 412.97 L569.25 413.07 L570.00 413.17 L570.75 413.26 L571.50 413.35 L572.25 413.44 L573.00 413.52 L573.75 413.60 L574.50 413.68 L575.25 413.76 L576.00 413.83 L576.75 413.90 L577.50 413.97 L578.25 414.03 L579.00 414.10 L579.75 414.16 L580.50 414.22 L581.25 414.28 L582.00 414.34 L582.75 414.39 L583.50 414.45 L584.25 414.50 L585.00 414.55 L585.75 414.60 L586.50 414.66 L587.25 414.71 L588.00 414.75 L588.75 414.80 L589.50 414.85 L590.25 414.90 L591.00 414.95 L591.75 415.00 L592.50 415.05 L593.25 415.09 L594.00 415.14 L594.75 415.19 L595.50 415.24 L596.25 415.29 L597.00 415.34 L597.75 415.40 L598.00 415.41" stroke="#eb9440"/>
</g></g>
<g stroke-width="1.25">
<line x1="40.5" y1="56.5" x2="92" y2="56.5" stroke="#dc3a40"/>
<line x1="40.5" y1="80.5" x2="92" y2="80.5" stroke="#262626"/>
<line x1="40.5" y1="105.1" x2="92" y2="105.1" stroke="#eb9440"/>
</g>
<g class="serif" font-size="18" fill="#000">
<text x="99" y="61.0">Fraction no. I (beta carotene)</text>
<text x="99" y="85.2">Fraction no. II</text>
<text x="99" y="109.4">Fraction no. III (lutein)</text>
</g>
<text class="serif" font-size="22.3" x="272.8" y="478.7">Wavelength (nm)</text>
<text class="serif" font-size="22.2" transform="translate(18.9 292.5) rotate(-90)">Absorbance (AU)</text>
<g class="sans" font-size="18" text-anchor="middle">
<text x="194" y="450.8">400</text>
<text x="516.3" y="450.8">500</text>
</g>
<text class="sans" font-size="16.5" fill="#dc1e26" stroke="#dc1e26" stroke-width="0.2" transform="translate(364.3 107.8) rotate(-90)">450</text>
<text class="sans" font-size="16.5" fill="#ee8c22" stroke="#ee8c22" stroke-width="0.2" transform="translate(352.2 256.5) rotate(-90)">446</text>
</svg>
</body></html>
